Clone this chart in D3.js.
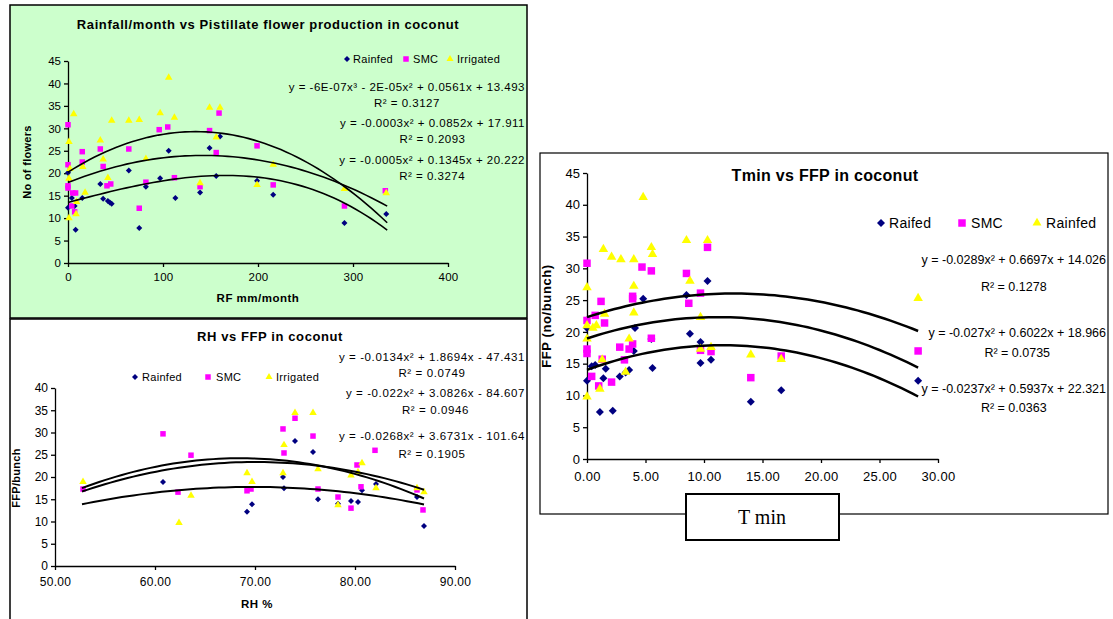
<!DOCTYPE html>
<html>
<head>
<meta charset="utf-8">
<script src="https://cdn.jsdelivr.net/npm/d3@7"></script>
<style>
  body { margin: 0; background: #fff; }
  text { font-family: "Liberation Sans", Arial, sans-serif; fill: #000; }
  .axis path, .axis line { stroke: #000; stroke-width: 1.3px; }
  .axis text { fill: #000; }
</style>
</head>
<body>
<script>
// ---- data: rainfall chart ----
let rfRainfed = [[0,20.1],[0,12.3],[4,14.5],[7,12.7],[8,7.4],[15,14.5],[34,17.6],[37,14.3],[42,13.8],[44,13.5],[46,13.2],[64,20.6],[75,7.8],[82,17],[97,18.9],[106,25],[113,14.5],[139,15.7],[149,25.6],[156,19.4],[160,28.2],[199,18.3],[216,15.2],[291,8.9],[335,10.9]];
let rfSMC = [[0,30.8],[0,21.9],[0,17.2],[0,16.7],[4,12.7],[5,15.6],[7,11.4],[8,15.6],[15,24.8],[15,22.5],[34,25.4],[37,21.5],[41,17.2],[45,17.6],[64,25.4],[75,12.2],[82,18],[96,29.7],[105,30.3],[112,19],[139,17],[149,29.5],[156,24.6],[159,33.4],[199,26.1],[216,17.4],[291,12.7],[334,16.1]];
let rfIrrigated = [[1,27],[2,21],[1,18.8],[1,10],[6,33.2],[8.5,10.9],[9,13.6],[15.5,21.4],[18,15.7],[34,27.3],[37,23.1],[42,19],[46,31.7],[64,31.7],[75,31.9],[82,23.2],[97,33.4],[106,41.3],[112,32.4],[139,17.8],[149,34.6],[156,28],[160,34.6],[199,17.4],[216,21.9],[291,16.5],[335,15.6]];
// trend coefficients c0 + c1 x + c2 x^2 + c3 x^3
let rfTrends = [[13.493, 0.0561, -2e-5, -6e-7], [17.911, 0.0852, -0.0003], [20.222, 0.1345, -0.0005]];
let rfTrendRange = [0, 336];
let rfEquations = ["y = -6E-07x³ - 2E-05x² + 0.0561x + 13.493", "R² = 0.3127",
                   "y = -0.0003x² + 0.0852x + 17.911", "R² = 0.2093",
                   "y = -0.0005x² + 0.1345x + 20.222", "R² = 0.3274"];
let rfXTicks = [0, 100, 200, 300, 400];
let rfYTicks = [0, 5, 10, 15, 20, 25, 30, 35, 40, 45];

// ---- data: RH chart ----
let rhRainfed = [[60.8,18.9],[69.2,12.2],[69.7,13.9],[72.8,20],[72.9,17.5],[74,28.1],[75.8,25.6],[76.3,15],[78.3,14],[79.6,14.6],[80.3,14.4],[80.7,17],[82.1,18.4],[86.2,15.5],[86.9,9]];
let rhSMC = [[52.8,17.3],[60.8,29.7],[62.3,16.6],[63.6,24.9],[69.2,16.9],[69.6,17.3],[72.8,30.8],[72.9,25.4],[74,33.2],[75.8,29.2],[76.3,17.3],[78.3,15.5],[79.6,13],[80.2,22.7],[80.6,17.8],[82,26],[86.2,17.1],[86.8,12.6]];
let rhIrrigated = [[52.8,18.9],[62.4,9.7],[63.6,15.8],[69.2,20.9],[69.7,18.9],[72.8,20.9],[72.9,27.2],[74,34.4],[75.8,34.4],[76.3,21.8],[78.3,13.7],[79.6,20.4],[80.3,21.1],[80.7,23.1],[82.1,17.5],[86.2,17.5],[86.9,16.6]];
let rhTrends = [[-47.431, 1.8694, -0.0134], [-84.607, 3.0826, -0.022], [-101.64, 3.6731, -0.0268]];
let rhTrendRange = [52.7, 86.9];
let rhEquations = ["y = -0.0134x² + 1.8694x - 47.431", "R² = 0.0749",
                   "y = -0.022x² + 3.0826x - 84.607", "R² = 0.0946",
                   "y = -0.0268x² + 3.6731x - 101.64", "R² = 0.1905"];
let rhXTicks = [50, 60, 70, 80, 90];
let rhYTicks = [0, 5, 10, 15, 20, 25, 30, 35, 40];

// ---- data: Tmin chart ----
let tmRaifed = [[0,20.6],[0,12.3],[0.4,14.6],[0.7,14.8],[1.1,7.4],[1.4,12.7],[1.6,14.2],[2.2,7.6],[2.8,13],[3.3,13.6],[3.6,14],[4,17],[4.1,20.6],[4.8,25.2],[5.5,18.9],[5.6,14.3],[8.5,25.8],[8.8,19.7],[9.7,18.4],[9.7,15.1],[10.3,28],[10.6,15.6],[14,9],[16.6,10.8],[28.3,12.3]];
let tmSMC = [[0,30.8],[0,21.8],[0,17.3],[0,16.6],[0.4,13],[0.7,22.6],[1,11.5],[1.2,24.8],[1.3,15.7],[1.5,21.4],[2.1,12.1],[2.8,17.6],[3.2,15.6],[3.6,17.3],[3.9,18.1],[3.9,25.6],[3.9,25.2],[4.7,30.2],[5.5,29.6],[5.5,19],[8.5,29.2],[8.7,24.5],[9.7,26.1],[9.7,17.1],[10.3,33.3],[10.6,16.9],[14,12.8],[16.6,16.2],[28.3,17]];
let tmRainfed = [[0,27],[0,21],[0,18.9],[0,9.8],[0.5,20.6],[0.8,21],[1.1,11],[1.3,15.6],[1.4,33],[1.5,22.8],[2.1,31.8],[2.9,31.4],[3.3,13.7],[3.6,18.9],[4,31.4],[4,27.2],[4,23],[4.8,41.2],[5.5,33.3],[5.6,32.2],[8.5,34.4],[8.8,28],[9.7,22.3],[9.7,17.3],[10.3,34.4],[10.6,17.6],[14,16.4],[16.6,15.7],[28.3,25.3]];
let tmTrends = [[14.026, 0.6697, -0.0289], [18.966, 0.6022, -0.027], [22.321, 0.5937, -0.0237]];
let tmTrendRange = [0, 28.3];
let tmEquations = ["y = -0.0289x² + 0.6697x + 14.026", "R² = 0.1278",
                   "y = -0.027x² + 0.6022x + 18.966", "R² = 0.0735",
                   "y = -0.0237x² + 0.5937x + 22.321", "R² = 0.0363"];
let tmXTicks = [0, 5, 10, 15, 20, 25, 30];
let tmYTicks = [0, 5, 10, 15, 20, 25, 30, 35, 40, 45];

const NAVY = "#000080", MAGENTA = "#FF00FF", YELLOW = "#FFFF00";

let svg = d3.select("body").append("svg")
  .attr("width", 1113).attr("height", 619);

// panel frames
svg.append("rect").attr("x", 10).attr("y", 5).attr("width", 517).attr("height", 313)
  .attr("fill", "#CCFFCC").attr("stroke", "#000").attr("stroke-width", 1.5);
svg.append("rect").attr("x", 10).attr("y", 319).attr("width", 517).attr("height", 310)
  .attr("fill", "#fff").attr("stroke", "#000").attr("stroke-width", 1.5);
svg.append("rect").attr("x", 540).attr("y", 153).attr("width", 568).attr("height", 361)
  .attr("fill", "#fff").attr("stroke", "#000").attr("stroke-width", 1.2);

function marker(g, kind, x, y, s) {
  let path;
  if (kind === "diamond") {
    path = d3.symbol(d3.symbolSquare, s * s / 2)();
    return g.append("path").attr("d", path)
      .attr("transform", "translate(" + x + "," + y + ") rotate(45)")
      .attr("fill", NAVY);
  }
  if (kind === "square") {
    path = d3.symbol(d3.symbolSquare, s * s)();
    return g.append("path").attr("d", path)
      .attr("transform", "translate(" + x + "," + y + ")").attr("fill", MAGENTA);
  }
  path = d3.symbol(d3.symbolTriangle, Math.sqrt(3) / 4 * s * s)();
  return g.append("path").attr("d", path)
    .attr("transform", "translate(" + x + "," + y + ")").attr("fill", YELLOW);
}

function poly(c, x) {
  let v = 0;
  for (let i = c.length - 1; i >= 0; i--) v = v * x + c[i];
  return v;
}

function drawPanel(p) {
  let g = svg.append("g");
  let x = d3.scaleLinear().domain(p.xDomain).range(p.xRange);
  let y = d3.scaleLinear().domain(p.yDomain).range(p.yRange);

  let xAxis = d3.axisBottom(x).tickValues(p.xTicks).tickFormat(p.fmt)
    .tickSizeInner(4).tickSizeOuter(0).tickPadding(p.xPad);
  let yAxis = d3.axisLeft(y).tickValues(p.yTicks).tickFormat(d3.format("d"))
    .tickSizeInner(4).tickSizeOuter(0).tickPadding(3);

  g.append("g").attr("class", "axis")
    .attr("transform", "translate(0," + p.yRange[0] + ")")
    .call(xAxis).selectAll("text").style("font-size", p.tickFont + "px")
    .style("font-family", "Liberation Sans, Arial").style("letter-spacing", "0.3px");
  g.append("g").attr("class", "axis")
    .attr("transform", "translate(" + p.xRange[0] + ",0)")
    .call(yAxis).selectAll("text").style("font-size", p.tickFont + "px")
    .style("font-family", "Liberation Sans, Arial");

  // points
  let kinds = ["diamond", "square", "triangle"];
  p.series.forEach(function(s, i) {
    s.forEach(function(d) {
      marker(g, kinds[i], x(d[0]), y(d[1]), p.markSizes[i]);
    });
  });

  // trend lines from the displayed fit equations
  p.trends.forEach(function(c) {
    let xs = d3.range(0, 61).map(function(i) {
      return p.trendRange[0] + (p.trendRange[1] - p.trendRange[0]) * i / 60;
    });
    let l = d3.line().x(function(d) { return x(d); }).y(function(d) { return y(poly(c, d)); });
    g.append("path").attr("d", l(xs)).attr("fill", "none")
      .attr("stroke", "#000").attr("stroke-width", p.trendWidth);
  });

  // title
  g.append("text").attr("x", p.title[1]).attr("y", p.title[2])
    .attr("text-anchor", "middle").style("font-weight", "bold")
    .style("font-size", p.title[3] + "px")
    .style("letter-spacing", p.title[4] + "px").text(p.title[0]);

  // axis titles
  g.append("text").attr("x", p.xTitle[1]).attr("y", p.xTitle[2])
    .attr("text-anchor", "middle").style("font-weight", "bold")
    .style("font-size", p.xTitle[3] + "px")
    .style("letter-spacing", "0.5px").text(p.xTitle[0]);
  g.append("text")
    .attr("transform", "translate(" + p.yTitle[1] + "," + p.yTitle[2] + ") rotate(-90)")
    .attr("text-anchor", "middle").style("font-weight", "bold")
    .style("font-size", p.yTitle[3] + "px")
    .style("letter-spacing", (p.yTitle[4] || 0) + "px").text(p.yTitle[0]);

  // legend
  p.legend.forEach(function(it, i) {
    marker(g, kinds[i], it[1], p.legendY, p.legendMark[i]);
    g.append("text").attr("x", it[2]).attr("y", p.legendY)
      .attr("dy", "0.35em").style("font-size", p.legendFont + "px")
      .style("letter-spacing", "0.3px").text(it[0]);
  });

  // equations; each R² line is centred under its equation
  let lastCenter = p.eqRight;
  p.equations.forEach(function(t, i) {
    let isR = t.indexOf("R²") === 0;
    let el = g.append("text").attr("x", isR ? lastCenter : p.eqRight).attr("y", p.eqY[i])
      .attr("dy", "0.35em")
      .attr("text-anchor", isR ? "middle" : "end")
      .style("font-size", p.eqFont + "px")
      .style("letter-spacing", (p.eqSpacing || 0) + "px").text(t);
    if (!isR) {
      let b = el.node().getBBox();
      lastCenter = b.x + b.width / 2;
    }
  });
}

drawPanel({
  xDomain: [0, 400], xRange: [68, 448], yDomain: [0, 45], yRange: [263, 61],
  xTicks: rfXTicks, yTicks: rfYTicks, fmt: d3.format("d"), tickFont: 11.5, xPad: 6,
  series: [rfRainfed, rfSMC, rfIrrigated], markSizes: [6, 5.5, 7.5],
  trends: rfTrends, trendRange: rfTrendRange, trendWidth: 1.6,
  title: ["Rainfall/month vs Pistillate flower production in coconut", 268, 29, 13, 0.6],
  xTitle: ["RF mm/month", 258, 302, 11.5],
  yTitle: ["No of flowers", 31, 162, 11, 0.3],
  legend: [["Rainfed", 347, 353], ["SMC", 406, 413], ["Irrigated", 450, 457]],
  legendY: 59, legendMark: [6, 5.5, 7], legendFont: 11,
  equations: rfEquations, eqY: [87, 103, 123, 139, 160, 176],
  eqRight: 525, eqFont: 11.5, eqSpacing: 0.5
});

drawPanel({
  xDomain: [50, 90], xRange: [55, 455], yDomain: [0, 40], yRange: [566, 388],
  xTicks: rhXTicks, yTicks: rhYTicks, fmt: d3.format(".2f"), tickFont: 12, xPad: 7,
  series: [rhRainfed, rhSMC, rhIrrigated], markSizes: [6, 5.5, 7.5],
  trends: rhTrends, trendRange: rhTrendRange, trendWidth: 2,
  title: ["RH vs FFP in coconut", 270, 341, 13, 0.6],
  xTitle: ["RH %", 257, 608, 11.5],
  yTitle: ["FFP/bunch", 20, 478, 11, 0.3],
  legend: [["Rainfed", 135, 142], ["SMC", 208, 216], ["Irrigated", 269, 276]],
  legendY: 377, legendMark: [6, 5.5, 7], legendFont: 11,
  equations: rhEquations, eqY: [357, 373, 393, 410, 436, 454],
  eqRight: 525, eqFont: 11.5, eqSpacing: 0.6
});

drawPanel({
  xDomain: [0, 30], xRange: [587, 938], yDomain: [0, 45], yRange: [459, 173],
  xTicks: tmXTicks, yTicks: tmYTicks, fmt: d3.format(".2f"), tickFont: 13, xPad: 9,
  series: [tmRaifed, tmSMC, tmRainfed], markSizes: [8, 7.5, 9.5],
  trends: tmTrends, trendRange: tmTrendRange, trendWidth: 2.5,
  title: ["Tmin vs FFP in coconut", 825, 181, 16, 0.3],
  xTitle: ["", 0, 0, 12],
  yTitle: ["FFP (no/bunch)", 551, 316, 13, 0.6],
  legend: [["Raifed", 881, 889], ["SMC", 962, 971], ["Rainfed", 1037, 1046]],
  legendY: 223, legendMark: [8, 7.5, 9], legendFont: 14,
  equations: tmEquations, eqY: [260, 287, 333, 353, 389, 408],
  eqRight: 1106, eqFont: 12.5, eqSpacing: 0
});

// T min label box
svg.append("rect").attr("x", 686).attr("y", 494).attr("width", 153).attr("height", 46)
  .attr("fill", "#fff").attr("stroke", "#000").attr("stroke-width", 2);
svg.append("text").attr("x", 762).attr("y", 524).attr("text-anchor", "middle")
  .style("font-family", "Liberation Serif, Times New Roman, serif")
  .style("font-size", "20px").text("T min");
</script>
</body>
</html>
